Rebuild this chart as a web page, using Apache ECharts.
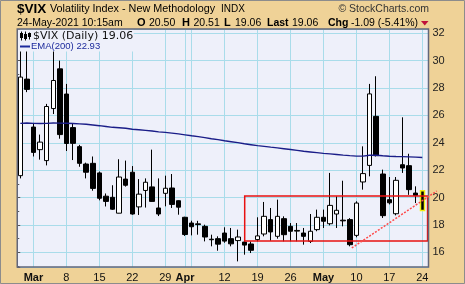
<!DOCTYPE html>
<html><head><meta charset="utf-8">
<script src="https://cdn.jsdelivr.net/npm/echarts@6/dist/echarts.min.js"></script>
<style>html,body{margin:0;padding:0;background:#efd297;}#c{width:465px;height:284px;}</style>
</head><body><div id="c"></div>
<script>
// ---- data ----
const dates = ['2021-02-25','2021-02-26',
'2021-03-01','2021-03-02','2021-03-03','2021-03-04','2021-03-05',
'2021-03-08','2021-03-09','2021-03-10','2021-03-11','2021-03-12',
'2021-03-15','2021-03-16','2021-03-17','2021-03-18','2021-03-19',
'2021-03-22','2021-03-23','2021-03-24','2021-03-25','2021-03-26',
'2021-03-29','2021-03-30','2021-03-31','2021-04-01',
'2021-04-05','2021-04-06','2021-04-07','2021-04-08','2021-04-09',
'2021-04-12','2021-04-13','2021-04-14','2021-04-15','2021-04-16',
'2021-04-19','2021-04-20','2021-04-21','2021-04-22','2021-04-23',
'2021-04-26','2021-04-27','2021-04-28','2021-04-29','2021-04-30',
'2021-05-03','2021-05-04','2021-05-05','2021-05-06','2021-05-07',
'2021-05-10','2021-05-11','2021-05-12','2021-05-13','2021-05-14',
'2021-05-17','2021-05-18','2021-05-19','2021-05-20','2021-05-21',
'2021-05-24'];
const opens = [21.60,28.65,25.15,23.50,22.70,26.50,29.40,27.56,25.11,23.72,
22.45,22.50,21.80,20.10,20.02,18.86,21.35,21.85,19.32,20.52,
20.78,19.24,20.31,20.70,19.77,18.56,18.14,18.08,17.90,16.96,
17.00,17.41,17.00,16.86,16.75,16.61,16.93,17.34,18.39,17.17,
18.46,17.90,17.60,17.41,16.80,17.66,18.56,18.09,18.80,18.35,
18.39,17.24,21.14,22.35,25.93,21.72,19.85,18.82,22.40,22.33,
20.33,20.50];
const highs = [31.00,30.80,25.45,24.60,26.84,30.90,30.00,28.30,25.40,23.85,
22.55,23.00,21.90,20.30,20.90,22.80,22.70,22.30,21.35,21.40,
23.50,21.40,21.60,21.72,19.80,18.60,18.31,18.30,18.02,17.29,
17.17,17.83,17.78,17.66,17.34,16.80,18.56,19.68,19.24,19.85,
18.63,18.14,18.14,17.78,18.80,19.12,19.12,21.80,20.09,21.23,
18.50,19.73,23.74,28.30,28.86,22.04,21.50,21.50,25.86,23.20,
20.82,20.51];
const lows = [21.40,27.70,23.00,22.77,22.35,26.10,24.30,23.40,22.74,22.25,
21.40,20.50,19.80,19.35,19.10,18.85,20.80,18.75,18.73,19.27,
19.70,18.65,19.36,19.24,18.75,17.20,17.24,17.29,16.80,16.44,
16.12,16.70,16.44,15.34,15.83,15.95,16.80,17.17,16.85,17.00,
16.80,16.80,16.80,16.56,16.68,17.54,17.78,17.97,17.78,17.90,
16.44,17.10,20.58,21.55,23.00,18.51,19.50,18.70,21.80,20.20,
19.60,19.06];
const closes = [28.80,27.90,23.30,24.05,26.65,28.55,24.60,23.95,23.96,22.50,
21.85,20.67,19.95,19.72,19.15,21.50,20.90,18.80,20.25,21.12,
19.72,18.80,20.68,19.50,19.30,17.30,17.87,18.03,17.12,16.92,
16.60,16.82,16.62,17.12,16.53,16.15,17.20,18.63,17.49,18.63,
17.29,17.54,17.55,17.17,17.54,18.56,18.27,19.43,19.07,18.30,
16.56,19.60,21.75,27.57,23.06,18.68,19.62,21.26,22.16,20.58,
20.16,19.06];
const ema200 = [25.42,25.45,25.42,25.41,25.42,25.45,25.44,25.43,25.41,25.38,
25.35,25.30,25.25,25.19,25.13,25.10,25.06,24.99,24.95,24.91,
24.86,24.80,24.76,24.71,24.65,24.58,24.51,24.45,24.38,24.30,
24.23,24.15,24.08,24.01,23.93,23.86,23.79,23.74,23.68,23.63,
23.57,23.51,23.45,23.38,23.33,23.28,23.23,23.19,23.15,23.10,
23.06,23.03,23.03,23.09,23.09,23.05,23.02,23.00,22.99,22.97,
22.95,22.93];
const xTickDates = ['2021-03-01','2021-03-08','2021-03-15','2021-03-22','2021-03-29','2021-04-01',
'2021-04-12','2021-04-19','2021-04-26','2021-05-03','2021-05-10','2021-05-17','2021-05-24'];
const xTickLabels = ['Mar','8','15','22','29','Apr','12','19','26','May','10','17','24'];
const monthLabels = ['Mar','Apr','May'];
const extraGridDates = ['2021-04-05'];
const yRange = [14.93, 32.31];
const yStep = 2;
// annotations (index, value)
const boxX = [34.05, 61.8];
const boxY = [16.83, 20.11];
const trendFrom = [50.3, 16.32];
const trendTo = [63.2, 20.48];

// ---- chart ----
const chart = echarts.init(document.getElementById('c'), null, {renderer:'canvas'});
const labelMap = new Map(xTickDates.map((d,i)=>[d, xTickLabels[i]]));
const gridSet = new Set(xTickDates.concat(extraGridDates));
const FONT = 'Liberation Sans';
const PLOT_L = 17.25, PLOT_T = 29, PLOT_R = 428.5, PLOT_B = 267;

const candleData = dates.map((d,i)=>{
  const v = [opens[i], closes[i], lows[i], highs[i]];
  return i === dates.length-1 ? {value:v, itemStyle:{borderColor0:'#f2ee10', borderWidth:1.5}} : v;
});

chart.setOption({
  animation:false,
  backgroundColor:'#efd297',
  grid:[
    {left:PLOT_L, top:PLOT_T, width:PLOT_R-PLOT_L, height:PLOT_B-PLOT_T, show:true, backgroundColor:'#eef0fa', borderWidth:0},
    {left:20.3, top:PLOT_T, width:402, height:PLOT_B-PLOT_T, show:false}
  ],
  xAxis:[
    {gridIndex:0, type:'value', show:false, min:0, max:1},
    {gridIndex:1, type:'category', data:dates, boundaryGap:false,
     axisLine:{show:false}, axisTick:{show:false},
     axisLabel:{interval:(idx,val)=>labelMap.has(val), margin:5,
       formatter:(val)=>{const t=labelMap.get(val)||''; return monthLabels.includes(t)?'{m|'+t+'}':t;},
       color:'#111', fontSize:11, fontFamily:FONT,
       rich:{m:{fontWeight:'bold', fontSize:11, fontFamily:FONT, color:'#111'}}},
     splitLine:{show:true, interval:(idx,val)=>gridSet.has(val), lineStyle:{color:'#a9dcea', width:1}}}
  ],
  yAxis:[
    {gridIndex:0, type:'value', position:'right', min:yRange[0], max:yRange[1],
     splitNumber:9, minInterval:yStep, maxInterval:yStep,
     axisLine:{show:false},
     axisTick:{show:true, length:3, lineStyle:{color:'#555'}},
     minorTick:{show:true, splitNumber:2, length:2, lineStyle:{color:'#555'}},
     axisLabel:{showMinLabel:false, showMaxLabel:false, margin:4, color:'#222', fontSize:11, fontFamily:FONT},
     splitLine:{show:true, lineStyle:{color:'#a9dcea', width:1}}},
    {gridIndex:1, type:'value', min:yRange[0], max:yRange[1], show:false, splitLine:{show:false}}
  ],
  series:[
    {type:'candlestick', xAxisIndex:1, yAxisIndex:1, data:candleData, barWidth:5, clip:false,
     itemStyle:{color:'#ffffff', color0:'#000000', borderColor:'#000000', borderColor0:'#000000', borderWidth:1}},
    {type:'line', xAxisIndex:1, yAxisIndex:1, data:ema200, symbol:'none', z:4,
     lineStyle:{color:'#1a1d88', width:1.4}}
  ]
});

function px(idx, val){
  const a = chart.convertToPixel({gridIndex:1}, [0, val]);
  const b = chart.convertToPixel({gridIndex:1}, [1, val]);
  return [a[0] + (b[0]-a[0])*idx, a[1]];
}
const b0 = px(boxX[0], boxY[1]), b1 = px(boxX[1], boxY[0]);
const t0 = px(trendFrom[0], trendFrom[1]), t1 = px(trendTo[0], trendTo[1]);

function txt(id, s, x, y, size, opts){
  opts = opts || {};
  return {type:'text', id, z:200, style:{text:s, x, y, fill:opts.fill||'#000',
    fontSize:size, fontFamily:opts.family||FONT, fontWeight:opts.bold?'bold':'normal',
    verticalAlign:'middle', align:opts.align||'left'}};
}

chart.setOption({graphic:[
  // annotations
  {type:'rect', id:'box', z:150, shape:{x:b0[0], y:b0[1], width:b1[0]-b0[0], height:b1[1]-b0[1]},
   style:{fill:null, stroke:'#e81010', lineWidth:1.5}},
  {type:'line', id:'trend', z:230, shape:{x1:t0[0], y1:t0[1], x2:t1[0], y2:t1[1]},
   style:{stroke:'#ff4a4a', lineWidth:1.5, lineDash:[2,1.5]}},
  // legend box
  {type:'rect', id:'legbg', z:180, shape:{x:PLOT_L+0.5, y:PLOT_T+0.5, width:116, height:22}, style:{fill:'#eef0fa'}},
  {type:'line', id:'ic1', z:190, shape:{x1:21.5,y1:31.5,x2:21.5,y2:40.5}, style:{stroke:'#000',lineWidth:1}},
  {type:'rect', id:'ic2', z:191, shape:{x:20,y:33,width:3,height:5}, style:{fill:'#000'}},
  {type:'line', id:'ic3', z:190, shape:{x1:25.5,y1:31.5,x2:25.5,y2:40.5}, style:{stroke:'#000',lineWidth:1}},
  {type:'rect', id:'ic4', z:191, shape:{x:24,y:34,width:3,height:5}, style:{fill:'#000'}},
  {type:'line', id:'ic5', z:190, shape:{x1:29.5,y1:32.5,x2:29.5,y2:39.5}, style:{stroke:'#000',lineWidth:1}},
  {type:'rect', id:'ic6', z:191, shape:{x:28,y:33,width:3,height:4}, style:{fill:'#000'}},
  txt('l1','$VIX (Daily) 19.06',33,35.8,11,{family:'DejaVu Sans', fill:'#111'}),
  {type:'line', id:'l2i', z:190, shape:{x1:20,y1:46.5,x2:30,y2:46.5}, style:{stroke:'#1c2a9c',lineWidth:2}},
  txt('l2','EMA(200) 22.93',31,46.5,9.5,{fill:'#1c2a9c'}),
  // plot frame & outer frame
  {type:'rect', id:'frame', z:220, shape:{x:PLOT_L, y:PLOT_T, width:PLOT_R-PLOT_L, height:PLOT_B-PLOT_T},
   style:{fill:null, stroke:'#62667a', lineWidth:1.5}},
  {type:'rect', id:'outer', z:220, shape:{x:0.5, y:0.5, width:464, height:283}, style:{fill:null, stroke:'#8c8c8c', lineWidth:1}},
  // header
  txt('h1','$VIX',17,8.8,13.5,{bold:true}),
  txt('h2','Volatility Index - New Methodology',50,9.4,10.8),
  txt('h3','INDX',221,9.6,10),
  txt('h4','© StockCharts.com',429,9.4,10.5,{align:'right', fill:'#333'}),
  txt('d1','24-May-2021 10:15am',17,23,10.5),
  txt('o1','O',137,23,11,{bold:true}), txt('o2','20.50',149,23,10.5),
  txt('hh1','H',182,23,11,{bold:true}), txt('hh2','20.51',193.5,23,10.5),
  txt('ll1','L',224,23,11,{bold:true}), txt('ll2','19.06',235,23,10.5),
  txt('la1','Last',267,23,10.5,{bold:true}), txt('la2','19.06',292,23,10.5),
  txt('c1','Chg',328,23,10.5,{bold:true}), txt('c2','-1.09 (-5.41%)',351,23,10.5),
  {type:'polygon', id:'tri', z:200, shape:{points:[[421,21],[428.5,21],[424.75,25.5]]}, style:{fill:'#c0103a'}}
]});
</script></body></html>
